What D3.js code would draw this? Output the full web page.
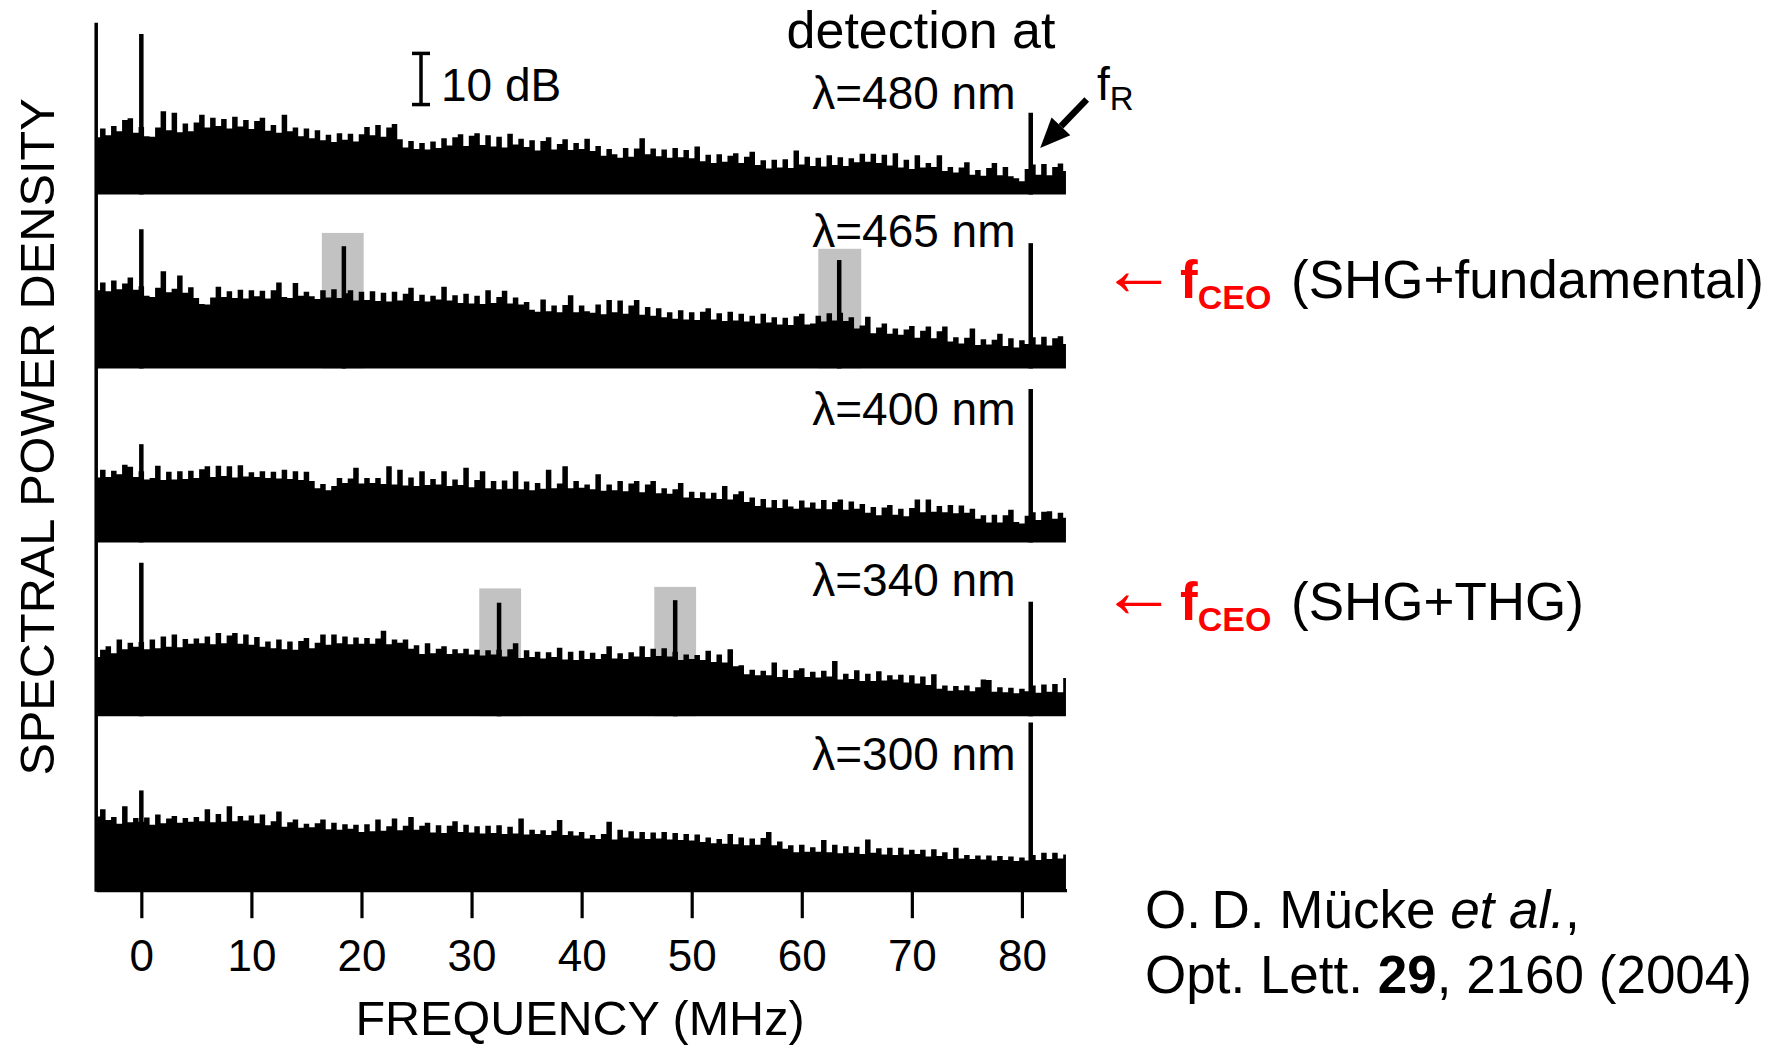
<!DOCTYPE html>
<html>
<head>
<meta charset="utf-8">
<script src="https://cdn.jsdelivr.net/npm/d3@7"></script>
<style>
  body { margin: 0; background: #fff; }
  svg text { font-family: "Liberation Sans", Arial, Helvetica, sans-serif; }
</style>
</head>
<body>
<svg id="chart" width="1783" height="1046"></svg>
<script>
// noise traces: dB above panel floor, sampled every 0.5 MHz from -4 MHz to 84 MHz
const freqStart = -4, freqStep = 0.5;
const xTicks = [0, 10, 20, 30, 40, 50, 60, 70, 80];
const fR = 80.8;
const wavelengths = ["λ=480 nm", "λ=465 nm", "λ=400 nm", "λ=340 nm", "λ=300 nm"];

const noise480 = [
  11.2, 12.9, 11.6, 13.4, 12.4, 14.6, 14.9, 12.1, 13.2, 11.4,   // -4
  11.3, 13.1, 16.3, 12.6, 16.0, 12.2, 13.9, 12.4, 14.1, 15.6,   // 1
  13.1, 15.0, 13.4, 14.8, 12.9, 15.2, 13.3, 14.6, 12.8, 14.4,   // 6
  15.0, 12.5, 13.6, 12.1, 15.6, 12.4, 13.1, 11.4, 12.9, 11.0,   // 11
  12.6, 10.6, 11.7, 10.3, 12.0, 10.7, 11.9, 10.4, 11.8, 13.2,   // 16
  11.6, 13.6, 11.3, 13.1, 13.8, 10.8, 9.2, 10.5, 8.9, 10.1,     // 21
  8.8, 10.4, 9.1, 11.0, 9.6, 11.2, 11.8, 9.5, 11.5, 12.0,       // 26
  9.7, 11.6, 9.4, 11.3, 9.2, 11.9, 9.8, 10.9, 9.3, 10.6,        // 31
  8.6, 10.5, 11.2, 8.8, 9.9, 10.8, 8.7, 10.1, 8.9, 10.9,        // 36
  8.5, 9.5, 7.6, 8.9, 7.9, 7.2, 9.1, 7.4, 9.0, 11.0,            // 41
  7.9, 9.0, 7.5, 8.8, 7.2, 9.1, 7.3, 8.7, 7.1, 9.4,             // 46
  6.5, 7.8, 6.2, 7.9, 6.4, 7.6, 8.1, 6.2, 7.4, 8.4,             // 51
  5.8, 6.7, 5.1, 6.8, 5.3, 6.9, 5.2, 8.6, 5.9, 7.4,             // 56
  5.6, 7.2, 5.5, 7.7, 5.8, 7.3, 5.6, 7.1, 6.3, 8.0,             // 61
  6.4, 8.0, 6.2, 7.8, 5.7, 8.1, 5.3, 6.8, 5.0, 7.7,             // 66
  5.3, 6.2, 5.4, 7.7, 4.6, 5.4, 4.3, 5.3, 6.3, 3.9,             // 71
  4.8, 3.7, 5.2, 6.2, 3.8, 5.4, 3.6, 3.2, 2.6, 5.0,             // 76
  5.9, 3.9, 6.0, 3.8, 5.4, 6.1, 4.6                             // 81
];
const noise465 = [
  15.3, 16.8, 15.1, 17.2, 15.5, 16.6, 17.8, 15.4, 16.1, 14.2,
  14.0, 15.8, 19.0, 14.9, 15.6, 18.2, 14.8, 15.9, 13.8, 12.6,
  12.5, 13.9, 16.0, 14.0, 15.1, 13.8, 15.4, 13.7, 15.3, 14.1,
  15.2, 13.7, 15.3, 16.8, 14.0, 13.8, 16.7, 14.2, 15.0, 14.1,
  13.6, 15.3, 13.9, 15.5, 13.8, 14.7, 15.3, 13.3, 15.0, 13.4,
  15.1, 13.2, 14.8, 13.1, 15.0, 13.3, 14.6, 15.8, 13.2, 14.4,
  13.1, 14.2, 13.5, 16.0, 13.3, 14.3, 12.8, 14.6, 12.7, 14.2,
  12.6, 15.3, 12.8, 14.0, 15.2, 12.7, 13.9, 12.5, 13.0, 11.5,
  11.1, 13.5, 11.2, 12.3, 11.0, 12.4, 14.3, 11.0, 12.3, 11.2,
  10.9, 12.5, 10.6, 13.4, 11.0, 13.3, 10.7, 12.3, 13.4, 10.5,
  12.0, 10.3, 11.8, 10.0, 11.0, 9.7, 11.4, 9.6, 11.0, 9.5,
  11.1, 11.8, 9.6, 10.8, 9.3, 11.1, 9.4, 10.7, 9.2, 10.3,
  8.8, 10.7, 9.0, 10.0, 8.6, 9.9, 8.5, 10.2, 10.7, 8.6,
  8.8, 10.3, 9.2, 10.8, 9.4, 10.9, 9.3, 10.0, 7.8, 8.4,
  10.1, 6.9, 8.0, 8.8, 6.8, 7.8, 6.6, 7.6, 8.3, 6.0,
  7.4, 8.2, 5.9, 7.3, 8.2, 5.3, 6.1, 4.9, 6.0, 7.8,
  4.6, 5.7, 4.7, 5.6, 6.8, 4.4, 5.9, 4.1, 5.5, 4.8,
  6.1, 4.7, 6.2, 4.5, 5.9, 6.3, 4.8
];
const noise400 = [
  12.7, 14.2, 12.8, 14.0, 13.3, 15.2, 14.8, 12.8, 13.9, 12.3,
  12.6, 15.0, 12.2, 13.8, 12.3, 13.9, 12.4, 14.0, 12.6, 14.3,
  14.9, 12.8, 15.0, 13.0, 14.9, 12.7, 15.1, 12.9, 13.7, 12.8,
  13.9, 12.6, 13.8, 12.5, 14.2, 12.4, 13.9, 12.2, 13.8, 12.0,
  10.6, 11.4, 10.2, 11.0, 12.6, 11.6, 12.5, 14.6, 11.5, 12.6,
  11.6, 12.6, 11.4, 14.9, 11.3, 14.2, 11.1, 12.7, 11.0, 13.9,
  11.2, 12.4, 11.3, 13.9, 11.0, 12.3, 11.2, 14.6, 10.8, 12.2,
  13.9, 10.6, 12.0, 10.4, 12.1, 10.5, 13.9, 10.4, 11.9, 10.2,
  11.6, 10.5, 14.2, 10.6, 11.5, 14.9, 10.6, 12.0, 10.7, 11.3,
  10.4, 13.3, 10.1, 11.3, 10.2, 12.0, 10.0, 11.5, 12.0, 9.8,
  11.3, 12.0, 9.6, 10.6, 9.5, 10.4, 11.6, 8.8, 9.9, 8.7,
  9.8, 8.6, 9.7, 8.5, 11.0, 8.4, 9.4, 10.0, 7.9, 8.8,
  7.1, 8.5, 6.8, 8.3, 6.7, 8.4, 7.0, 6.6, 8.2, 6.8,
  7.8, 6.6, 8.3, 6.5, 7.9, 8.4, 6.4, 8.0, 6.6, 7.5,
  5.8, 6.9, 5.3, 6.8, 7.3, 5.4, 6.6, 5.1, 6.7, 8.4,
  5.9, 8.4, 6.0, 7.1, 5.9, 7.3, 5.7, 7.2, 5.8, 6.6,
  4.6, 5.3, 3.9, 5.4, 3.9, 5.3, 6.4, 4.0, 3.7, 5.2,
  5.9, 4.4, 6.0, 6.1, 4.6, 5.8, 4.8
];
const noise340 = [
  11.6, 13.0, 13.7, 12.3, 15.0, 13.1, 14.4, 13.6, 14.5, 13.1,
  15.0, 13.3, 15.6, 13.6, 16.0, 13.5, 15.1, 14.2, 15.2, 14.3,
  15.6, 14.1, 16.3, 14.3, 15.8, 16.3, 14.2, 16.0, 14.0, 15.5,
  13.6, 14.6, 13.3, 15.0, 13.1, 14.6, 13.0, 14.7, 15.3, 13.3,
  14.4, 16.0, 14.0, 16.0, 14.3, 15.6, 14.1, 15.4, 14.2, 15.3,
  14.2, 15.2, 16.7, 14.1, 15.0, 14.4, 15.0, 13.2, 13.9, 12.2,
  14.3, 12.3, 13.2, 13.7, 12.2, 13.1, 12.3, 13.2, 12.1, 13.0,
  11.9, 12.9, 12.1, 13.0, 11.7, 13.1, 14.3, 11.4, 12.9, 11.6,
  12.6, 11.3, 12.5, 11.6, 13.4, 11.1, 12.6, 11.0, 12.8, 11.2,
  12.4, 11.2, 12.2, 13.7, 11.3, 12.3, 11.2, 12.5, 11.7, 13.7,
  11.6, 13.2, 11.8, 13.3, 11.7, 12.6, 11.0, 12.1, 11.2, 12.0,
  11.0, 12.8, 10.6, 12.1, 10.5, 13.1, 9.8, 10.0, 8.2, 9.1,
  8.0, 8.9, 8.0, 10.5, 7.7, 9.1, 7.5, 9.0, 9.4, 7.7,
  8.7, 7.6, 8.9, 7.8, 10.8, 7.2, 8.3, 7.3, 9.0, 6.9,
  8.3, 6.9, 8.8, 7.0, 8.0, 7.2, 8.1, 6.6, 8.0, 6.4,
  7.8, 6.1, 8.2, 5.4, 6.0, 5.0, 5.9, 5.1, 6.0, 4.9,
  5.7, 7.2, 7.1, 4.8, 5.7, 4.7, 5.6, 4.5, 5.4, 4.9,
  6.0, 4.6, 6.2, 4.8, 6.3, 4.7, 7.5
];
const noise300 = [
  14.4, 15.8, 13.7, 14.3, 13.0, 16.4, 13.3, 14.1, 13.4, 14.2,
  12.8, 14.8, 13.1, 14.0, 14.5, 13.2, 14.1, 13.4, 14.3, 13.5,
  15.8, 13.3, 14.9, 13.4, 16.4, 13.5, 14.5, 13.6, 14.6, 13.1,
  14.8, 12.7, 13.5, 15.4, 12.4, 13.3, 13.8, 12.2, 13.0, 12.3,
  13.1, 13.8, 11.9, 13.2, 11.8, 12.9, 12.0, 12.8, 11.4, 12.9,
  11.5, 13.8, 11.6, 12.5, 14.0, 11.7, 12.6, 14.3, 11.8, 12.6,
  13.2, 11.3, 12.7, 11.2, 12.6, 13.5, 11.4, 12.8, 11.3, 12.5,
  11.1, 12.6, 11.2, 12.7, 11.0, 12.4, 11.1, 14.0, 10.9, 11.8,
  11.0, 11.7, 10.8, 11.6, 13.7, 10.8, 11.5, 10.7, 11.4, 10.1,
  10.8, 10.0, 11.0, 13.4, 9.9, 11.8, 10.3, 11.5, 10.1, 11.4,
  10.0, 11.3, 10.1, 11.4, 9.9, 11.2, 9.8, 11.0, 9.7, 10.9,
  9.4, 10.3, 9.2, 10.0, 9.1, 11.0, 9.0, 10.3, 8.8, 10.1,
  8.9, 10.2, 11.4, 8.8, 9.5, 8.1, 8.8, 7.4, 8.9, 7.5,
  8.4, 7.5, 9.8, 7.4, 8.9, 7.2, 8.6, 7.3, 8.5, 7.1,
  9.9, 7.3, 8.2, 7.0, 8.3, 6.9, 8.3, 7.0, 7.9, 7.1,
  7.9, 6.6, 8.0, 6.7, 7.4, 6.1, 8.3, 6.2, 6.9, 6.1,
  6.8, 6.0, 6.8, 5.8, 6.7, 5.9, 6.6, 5.7, 6.4, 5.8,
  6.9, 5.9, 7.3, 6.1, 7.3, 6.2, 7.0
];

// narrow lines: [frequency MHz, height dB]
const peaks480 = [[0, 31.4], [80.8, 16.0]];
const peaks465 = [[0, 27.2], [18.4, 23.9], [63.4, 21.2], [80.8, 24.5]];
const peaks400 = [[0, 19.2], [80.8, 30.0]];
const peaks340 = [[0, 30.0], [32.5, 22.2], [48.5, 22.7], [80.8, 22.4]];
const peaks300 = [[0, 19.5], [80.8, 32.8]];

// grey highlight boxes: [from MHz, to MHz, top dB]
const boxes465 = [[16.4, 20.2, 26.5], [61.5, 65.4, 23.4]];
const boxes340 = [[30.7, 34.5, 25.0], [46.6, 50.4, 25.3]];

const panels = [
  {label: wavelengths[0], noise: noise480, peaks: peaks480, boxes: [], labelY: 86.3},
  {label: wavelengths[1], noise: noise465, peaks: peaks465, boxes: boxes465, labelY: 50},
  {label: wavelengths[2], noise: noise400, peaks: peaks400, boxes: [], labelY: 54},
  {label: wavelengths[3], noise: noise340, peaks: peaks340, boxes: boxes340, labelY: 51.6},
  {label: wavelengths[4], noise: noise300, peaks: peaks300, boxes: [], labelY: 51.7}
];

const svg = d3.select("#chart");
const panelTop = 22.7, panelStep = 173.9, panelGap = 2;
const plotBottom = panelTop + panels.length * panelStep - panelGap;

const x = d3.scaleLinear().domain([-4.1, 84.05]).range([96.2, 1066.5]);
const y = d3.scaleLinear().domain([0, 33.6]).range([panelStep - panelGap, 0]);

const noiseArea = d3.area()
    .curve(d3.curveStep)
    .x((d, i) => x(freqStart + i * freqStep))
    .y0(y(0))
    .y1(d => y(d));

panels.forEach(function (p, k) {
    const g = svg.append("g")
        .attr("transform", "translate(0," + (panelTop + k * panelStep) + ")");

    g.selectAll("rect")
        .data(p.boxes)
        .join("rect")
        .attr("x", d => x(d[0]))
        .attr("width", d => x(d[1]) - x(d[0]))
        .attr("y", d => y(d[2]))
        .attr("height", d => y(0) - y(d[2]))
        .attr("fill", "#c2c2c2");

    g.append("path")
        .datum(p.noise)
        .attr("d", noiseArea)
        .attr("fill", "#000");

    g.selectAll("line.peak")
        .data(p.peaks)
        .join("line")
        .attr("class", "peak")
        .attr("x1", d => x(d[0]))
        .attr("x2", d => x(d[0]))
        .attr("y1", y(0))
        .attr("y2", d => y(d[1]))
        .attr("stroke", "#000")
        .attr("stroke-width", 4.5);

    g.append("text")
        .attr("x", 1015.5)
        .attr("y", p.labelY)
        .attr("text-anchor", "end")
        .style("font-size", "46px")
        .text(p.label);

    if (k === 0) {
        // 10 dB scale bar
        const barX = 421;
        g.append("line")
            .attr("x1", barX).attr("x2", barX)
            .attr("y1", y(27.6)).attr("y2", y(17.6))
            .attr("stroke", "#000").attr("stroke-width", 3.5);
        [27.6, 17.6].forEach(function (v) {
            g.append("line")
                .attr("x1", barX - 9).attr("x2", barX + 9)
                .attr("y1", y(v)).attr("y2", y(v))
                .attr("stroke", "#000").attr("stroke-width", 3.5);
        });
        g.append("text")
            .attr("x", 441)
            .attr("y", y(18.2))
            .style("font-size", "46px")
            .text("10 dB");

        // arrow pointing at f_R
        const tip = [x(fR) + 9.5, y(9.1)], tail = [x(fR) + 56, y(18.6)];
        const dx = tip[0] - tail[0], dy = tip[1] - tail[1];
        const len = Math.hypot(dx, dy), ux = dx / len, uy = dy / len;
        const base = [tip[0] - 30 * ux, tip[1] - 30 * uy];
        g.append("line")
            .attr("x1", tail[0]).attr("y1", tail[1])
            .attr("x2", base[0]).attr("y2", base[1])
            .attr("stroke", "#000").attr("stroke-width", 6.5);
        g.append("path")
            .attr("d", "M" + tip + "L" + [base[0] - 13 * uy, base[1] + 13 * ux] +
                       "L" + [base[0] + 13 * uy, base[1] - 13 * ux] + "Z")
            .attr("fill", "#000");

        const fLabel = g.append("text")
            .attr("x", 1097)
            .attr("y", 77.3)
            .style("font-size", "46px");
        fLabel.append("tspan").text("f");
        fLabel.append("tspan").attr("dy", 10).style("font-size", "33px").text("R");
    }
});

// left axis line
svg.append("line")
    .attr("x1", x(-4.1)).attr("x2", x(-4.1))
    .attr("y1", panelTop).attr("y2", plotBottom + 1.5)
    .attr("stroke", "#000").attr("stroke-width", 3.5);

// frequency axis
const xAxis = svg.append("g")
    .attr("transform", "translate(0," + plotBottom + ")")
    .call(d3.axisBottom(x).tickValues(xTicks).tickSize(28).tickSizeOuter(0).tickPadding(22));
xAxis.select(".domain").attr("stroke", "#000").attr("stroke-width", 3.2);
xAxis.selectAll(".tick line").attr("stroke", "#000").attr("stroke-width", 3.2);
xAxis.selectAll(".tick text").attr("fill", "#000").style("font-size", "44px");

svg.append("text")
    .attr("x", 580)
    .attr("y", 1035)
    .attr("text-anchor", "middle")
    .style("font-size", "48.5px")
    .text("FREQUENCY (MHz)");

svg.append("text")
    .attr("transform", "translate(54,437) rotate(-90)")
    .attr("text-anchor", "middle")
    .style("font-size", "48.7px")
    .text("SPECTRAL POWER DENSITY");

svg.append("text")
    .attr("x", 921)
    .attr("y", 48)
    .attr("text-anchor", "middle")
    .style("font-size", "52px")
    .text("detection at");

// red f_CEO annotations
const ceoNotes = [
    {y: 298, text: "(SHG+fundamental)"},
    {y: 620, text: "(SHG+THG)"}
];
ceoNotes.forEach(function (n) {
    svg.append("text")
        .attr("x", 1100.5)
        .attr("y", n.y - 3.5)
        .attr("fill", "#ff0000")
        .style("font-size", "76px")
        .text("←");
    const t = svg.append("text")
        .attr("x", 1180)
        .attr("y", n.y)
        .style("font-size", "53px");
    t.append("tspan").attr("fill", "#ff0000").attr("font-weight", "bold").text("f");
    t.append("tspan").attr("fill", "#ff0000").attr("font-weight", "bold")
        .attr("dy", 11).style("font-size", "34px").text("CEO");
    t.append("tspan").attr("x", 1291).attr("dy", -11).attr("fill", "#000").text(n.text);
});

// citation
const cite1 = svg.append("text").attr("x", 1145).attr("y", 928).style("font-size", "53px");
cite1.append("tspan").text("O.\u2009D. Mücke ");
cite1.append("tspan").attr("font-style", "italic").text("et al.");
cite1.append("tspan").text(",");

const cite2 = svg.append("text").attr("x", 1145).attr("y", 993).style("font-size", "53px");
cite2.append("tspan").text("Opt. Lett. ");
cite2.append("tspan").attr("font-weight", "bold").text("29");
cite2.append("tspan").text(", 2160 (2004)");
</script>
</body>
</html>
